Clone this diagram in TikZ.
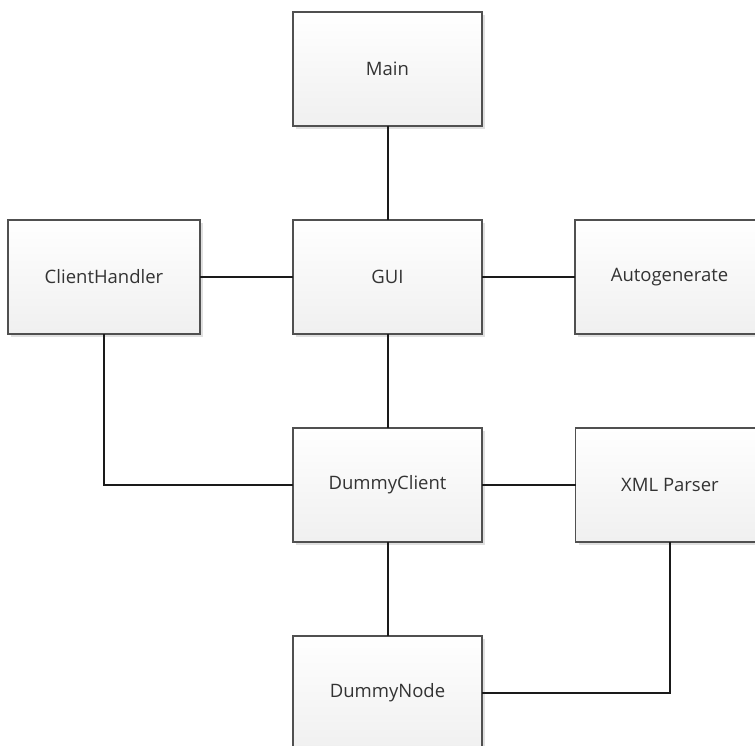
\documentclass[tikz,border=0pt]{standalone}
\usepackage{fontspec}
\setmainfont{Open Sans}
\usetikzlibrary{shadows}
\definecolor{boxedge}{HTML}{505050}
\definecolor{boxtext}{HTML}{333333}
\definecolor{linkline}{HTML}{1A1A1A}
\begin{document}
\begin{tikzpicture}[x=1pt,y=-1pt,
  module/.style={draw=boxedge, line width=1.7pt, top color=white, bottom color=black!6,
    minimum width=189pt, minimum height=114pt, inner sep=0pt, outer sep=0pt,
    text=boxtext, font=\fontsize{18.5}{20}\selectfont,
    drop shadow={shadow xshift=3pt, shadow yshift=-3pt, fill=black, opacity=0.12}},
  link/.style={draw=linkline, line width=2pt}]
\useasboundingbox (0,0) rectangle (755,746);
\clip (0,0) rectangle (755,746);
% modules
\node[module] (main) at (387.5,69) {Main};
\node[module] (gui) at (387.5,277) {GUI};
\node[module, minimum width=192pt] (ch) at (104,277) {ClientHandler};
\node[module] (auto) at (669.5,277) {Autogenerate};
\node[module] (dc) at (387.5,485) {DummyClient};
\node[module] (xml) at (670,485) {XML Parser};
\node[module] (dn) at (387.5,693) {DummyNode};
% links between modules
\draw[link] (main.south) -- (gui.north);
\draw[link] (ch.east) -- (gui.west);
\draw[link] (gui.east) -- (auto.west);
\draw[link] (gui.south) -- (dc.north);
\draw[link] (ch.south) |- (dc.west);
\draw[link] (dc.east) -- (xml.west);
\draw[link] (dc.south) -- (dn.north);
\draw[link] (xml.south) |- (dn.east);
\end{tikzpicture}
\end{document}
